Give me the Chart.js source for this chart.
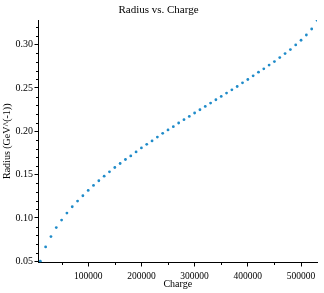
<!DOCTYPE html>
<html>
<head>
<meta charset="utf-8">
<script src="https://cdn.jsdelivr.net/npm/chart.js@4/dist/chart.umd.min.js"></script>
<style>
  html, body { margin: 0; padding: 0; background: #ffffff; }
  #c { display: block; }
</style>
</head>
<body>
<canvas id="c" width="324" height="293"></canvas>
<script>
const chartTitle = 'Radius vs. Charge';
const xAxisTitle = 'Charge';
const yAxisTitle = 'Radius (GeV^(-1))';

const chargeValues = [
  10000, 20000, 30000, 40000, 50000, 60000, 70000, 80000, 90000, 100000,
  110000, 120000, 130000, 140000, 150000, 160000, 170000, 180000, 190000, 200000,
  210000, 220000, 230000, 240000, 250000, 260000, 270000, 280000, 290000, 300000,
  310000, 320000, 330000, 340000, 350000, 360000, 370000, 380000, 390000, 400000,
  410000, 420000, 430000, 440000, 450000, 460000, 470000, 480000, 490000, 500000,
  510000, 520000, 530000
];
const radiusValues = [
  0.0500, 0.0665, 0.0784, 0.0888, 0.0975, 0.1056, 0.1129, 0.1194, 0.1256, 0.1317,
  0.1375, 0.1429, 0.1482, 0.1532, 0.1582, 0.1628, 0.1674, 0.1716, 0.1762, 0.1808,
  0.1850, 0.1889, 0.1933, 0.1976, 0.2016, 0.2053, 0.2096, 0.2134, 0.2172, 0.2211,
  0.2249, 0.2287, 0.2326, 0.2364, 0.2402, 0.2441, 0.2479, 0.2517, 0.2560, 0.2598,
  0.2640, 0.2683, 0.2721, 0.2764, 0.2805, 0.2851, 0.2897, 0.2943, 0.2997, 0.3051,
  0.3112, 0.3181, 0.3281
];

const xTickValues = [100000, 200000, 300000, 400000, 500000];
const xMinorTickValues = [50000, 150000, 250000, 350000, 450000];
const yTickValues = [0.05, 0.10, 0.15, 0.20, 0.25, 0.30];
const yMinorTickValues = [
  0.06, 0.07, 0.08, 0.09, 0.11, 0.12, 0.13, 0.14, 0.16, 0.17, 0.18, 0.19,
  0.21, 0.22, 0.23, 0.24, 0.26, 0.27, 0.28, 0.29, 0.31, 0.32
];

const xRange = [6600, 530000];
const yRange = [0.0485, 0.3285];

const serif = "'Liberation Serif', 'Times New Roman', serif";

const minorTicksPlugin = {
  id: 'minorTicks',
  afterDraw(chart) {
    const ctx = chart.ctx;
    const xs = chart.scales.x, ys = chart.scales.y;
    ctx.save();
    ctx.strokeStyle = '#000';
    ctx.lineWidth = 1;
    ctx.beginPath();
    yMinorTickValues.forEach(v => {
      const py = Math.round(ys.getPixelForValue(v)) + 0.5;
      ctx.moveTo(ys.right, py);
      ctx.lineTo(ys.right - 2.5, py);
    });
    xMinorTickValues.forEach(v => {
      const px = Math.round(xs.getPixelForValue(v)) + 0.5;
      ctx.moveTo(px, xs.top);
      ctx.lineTo(px, xs.top + 2.5);
    });
    ctx.stroke();
    ctx.restore();
  }
};

new Chart(document.getElementById('c'), {
  type: 'scatter',
  data: {
    datasets: [{
      label: 'Radius',
      data: chargeValues.map((c, i) => ({ x: c, y: radiusValues[i] })),
      backgroundColor: '#1f8bc9',
      borderWidth: 0,
      pointRadius: 1.4,
      pointStyle: 'circle',
      showLine: false
    }]
  },
  options: {
    responsive: false,
    animation: false,
    devicePixelRatio: 1,
    events: [],
    layout: { padding: { top: 0, right: 7, bottom: 0, left: 0 } },
    plugins: {
      legend: { display: false },
      tooltip: { enabled: false },
      title: {
        display: true,
        text: chartTitle,
        color: '#000',
        font: { family: serif, size: 11, weight: 'normal', lineHeight: 1.2 },
        padding: { top: 4, bottom: 2.8 }
      }
    },
    scales: {
      x: {
        type: 'linear',
        position: 'bottom',
        min: xRange[0],
        max: xRange[1],
        afterBuildTicks: s => { s.ticks = xTickValues.map(v => ({ value: v })); },
        afterFit: s => { s.height = 30.5; },
        border: { display: true, color: '#000', width: 1 },
        grid: { drawOnChartArea: false, drawTicks: true, tickLength: 4, tickColor: '#000' },
        ticks: {
          color: '#000',
          padding: 4,
          maxRotation: 0,
          autoSkip: false,
          font: { family: serif, size: 9.5 },
          callback: v => String(v)
        },
        title: {
          display: true,
          text: xAxisTitle,
          color: '#000',
          font: { family: serif, size: 10, lineHeight: 1.2 },
          padding: { top: 0, bottom: 2.5 }
        }
      },
      y: {
        type: 'linear',
        position: 'left',
        min: yRange[0],
        max: yRange[1],
        afterBuildTicks: s => { s.ticks = yTickValues.map(v => ({ value: v })); },
        afterFit: s => { s.width = 38.5; },
        border: { display: true, color: '#000', width: 1 },
        grid: { drawOnChartArea: false, drawTicks: true, tickLength: 4, tickColor: '#000' },
        ticks: {
          color: '#000',
          padding: 1.5,
          autoSkip: false,
          font: { family: serif, size: 10 },
          callback: v => Number(v).toFixed(2)
        },
        title: {
          display: true,
          text: yAxisTitle,
          color: '#000',
          font: { family: serif, size: 10, lineHeight: 1.2 },
          padding: { top: 1, bottom: 0 }
        }
      }
    }
  },
  plugins: [minorTicksPlugin]
});
</script>
</body>
</html>
